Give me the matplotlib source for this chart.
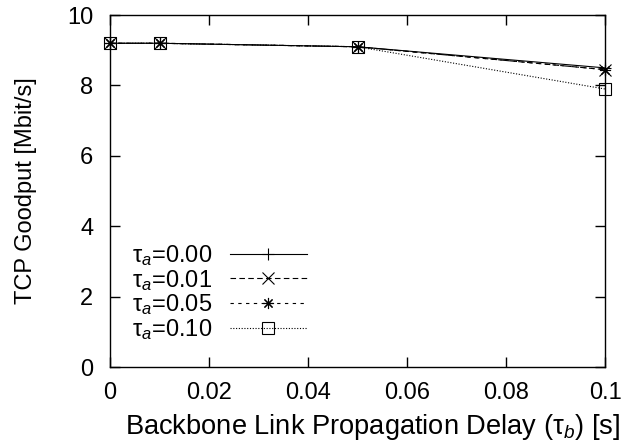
import matplotlib
matplotlib.use('Agg')
import matplotlib.pyplot as plt

plt.rcParams['font.family'] = ['Liberation Sans', 'DejaVu Sans']
plt.rcParams['mathtext.fontset'] = 'custom'
plt.rcParams['mathtext.rm'] = 'Liberation Sans'
plt.rcParams['mathtext.it'] = 'Liberation Sans:italic'

# Datos
delay = [0, 0.01, 0.05, 0.1]
goodput_000 = [9.2, 9.2, 9.1, 8.5]
goodput_001 = [9.2, 9.2, 9.1, 8.45]
goodput_005 = [9.2, 9.2, 9.1, 8.45]
goodput_010 = [9.2, 9.2, 9.1, 7.9]
labels = ['τ$_a$=0.00', 'τ$_a$=0.01', 'τ$_a$=0.05', 'τ$_a$=0.10']

series = [goodput_000, goodput_001, goodput_005, goodput_010]
estilos = [('-', '+'), ((0, (5, 3)), 'x'), ((0, (3, 4)), (8, 2, 0)), ((0, (1, 1.5)), 's')]

fs = 17
fig = plt.figure(figsize=(6.25, 4.44), dpi=100)
ax = fig.add_axes([0.176, 0.1734, 0.792, 0.7926])

for vals, lab, (ls, mk) in zip(series, labels, estilos):
    ax.plot(delay, vals, linestyle=ls, marker=mk, color='black', linewidth=0.8,
            markersize=8, markerfacecolor='none', markeredgewidth=0.8,
            label=lab, clip_on=False)

ax.set_xlim(0, 0.1)
ax.set_ylim(0, 10)
ax.set_xticks([0, 0.02, 0.04, 0.06, 0.08, 0.1])
ax.set_xticklabels(['0', '0.02', '0.04', '0.06', '0.08', '0.1'])
ax.set_yticks([0, 2, 4, 6, 8, 10])
ax.tick_params(direction='in', top=True, right=True, length=7, width=1,
               labelsize=fs)
ax.tick_params(axis='x', pad=11)
ax.tick_params(axis='y', pad=12)
for s in ax.spines.values():
    s.set_linewidth(1)

ax.set_xlabel('Backbone Link Propagation Delay (τ$_b$) [s]', fontsize=19.6)
ax.xaxis.set_label_coords(0.53, -0.128, transform=ax.transAxes)
ax.xaxis.label.set_va('top')
ax.set_ylabel('TCP Goodput [Mbit/s]', fontsize=fs, labelpad=22)

ax.legend(loc='lower left', bbox_to_anchor=(0.044, 0.07), frameon=False,
          markerfirst=False, fontsize=fs, handlelength=3.26, labelspacing=0.0,
          handletextpad=0.76, borderaxespad=0, borderpad=0)

fig.savefig('out.png', dpi=100)
